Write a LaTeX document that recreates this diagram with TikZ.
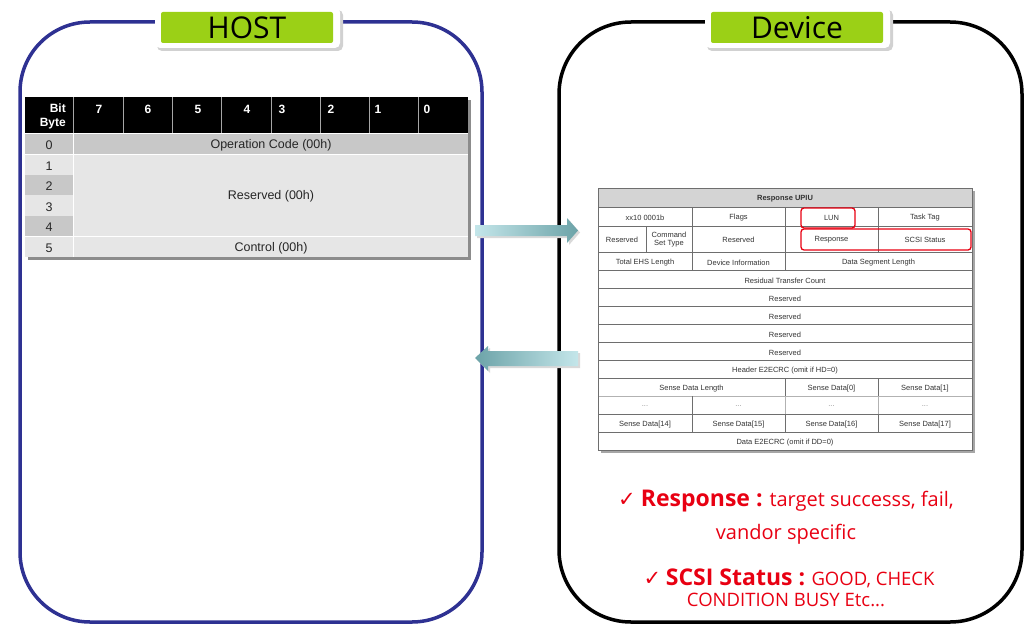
\documentclass[tikz,border=0pt]{standalone}
\usepackage{fontspec}
\setmainfont{Liberation Sans}
\newfontfamily\gothic{Open Sans}
\newfontfamily\symb{DejaVu Sans}

\definecolor{hostblue}{RGB}{46,49,146}
\definecolor{tabgreen}{RGB}{155,208,22}
\definecolor{rowdark}{RGB}{200,200,200}
\definecolor{rowlight}{RGB}{230,230,230}
\definecolor{cellline}{RGB}{110,110,110}
\definecolor{arrowlight}{RGB}{196,230,234}
\definecolor{arrowdark}{RGB}{108,163,168}
\definecolor{notered}{RGB}{232,0,18}

\begin{document}
\begin{tikzpicture}[x=1pt, y=-1pt,
    tag/.style={fill=tabgreen, rounded corners=2pt, minimum width=172pt, minimum height=31pt,
      inner sep=0pt, font=\gothic\fontsize{30}{30}\selectfont},
    bitnum/.style={font=\bfseries\fontsize{12}{12}\selectfont, text=white, inner sep=0pt},
    rowtext/.style={font=\fontsize{12.5}{13}\selectfont, text=black!85, inner sep=0pt},
    cell/.style={font=\fontsize{7.5}{8}\selectfont, text=black!80, inner sep=0pt, align=center},
    highlight/.style={draw=notered, line width=1.3pt, rounded corners=3pt},
    note/.style={text=notered, inner sep=0pt, font=\gothic\fontsize{20}{22}\selectfont}]
    \useasboundingbox (0,0) rectangle (1036,634);

    % Draw host and device frames
    \draw[hostblue, line width=3.5pt, rounded corners=70pt] (20,22) rectangle (482,622);
    \draw[black, line width=3.5pt, rounded corners=72pt] (559,22) rectangle (1022,622);

    % Draw title tags
    \foreach \x/\name/\txt in {247/host/HOST, 797/device/Device} {
        \fill[black!18, rounded corners=5pt] (\x-90,10) rectangle (\x+96,51);
        \fill[white, rounded corners=5pt] (\x-92,7) rectangle (\x+93,48);
        \node[tag] (\name) at (\x,27.5) {\txt};
    }

    % Draw command table (host side)
    \fill[black!45] (28,100) rectangle (471,260);
    \fill[black] (25,97) rectangle (468,133);
    \foreach \x in {73,123,172,221,271,320,369,418}
        \draw[gray!70, line width=0.8pt] (\x,97) -- (\x,133);
    \node[bitnum, anchor=east] (bitlabel) at (66,108) {Bit};
    \node[bitnum, anchor=east] (bytelabel) at (66,124) {Byte};
    \foreach \x/\d in {99/7,148/6,198/5,247/4,282/3,331/2,378/1,427/0}
        \node[bitnum] (bit\d) at (\x,109) {\d};
    \fill[rowdark] (73,133) rectangle (468,154);
    \fill[rowlight] (73,154) rectangle (468,257);
    \foreach \top/\bot/\c [count=\i from 0] in
        {133/154/rowdark, 154/175/rowlight, 175/195/rowdark,
         195/216/rowlight, 216/236/rowdark, 236/257/rowlight} {
        \fill[\c] (25,\top) rectangle (73,\bot);
        \node[rowtext] (byte\i) at (49,{(\top+\bot)/2+1.5}) {\i};
    }
    \draw[white, line width=1pt] (25,133) -- (468,133) (25,154) -- (468,154)
        (25,236) -- (468,236) (73,133) -- (73,257);
    \node[rowtext] (opcode) at (271,145) {Operation Code (00h)};
    \node[rowtext] (reserved) at (271,196.5) {Reserved (00h)};
    \node[rowtext] (control) at (271,248) {Control (00h)};

    % Draw response UPIU table (device side)
    \fill[black!35] (601,191) rectangle (975,453);
    \fill[white] (598,188) rectangle (972,450);
    \fill[black!17] (598,188) rectangle (972,207);
    \foreach \y in {207,226,252,270,288,306,324,342,360,378,414,432}
        \draw[cellline, line width=0.5pt] (598,\y) -- (972,\y);
    \draw[black!30, line width=0.5pt] (598,396) -- (972,396);
    \draw[cellline, line width=0.6pt] (598,188) rectangle (972,450);
    \draw[cellline, line width=0.5pt]
        (692,207) -- (692,270) (785,207) -- (785,270) (878,207) -- (878,252)
        (646,226) -- (646,252)
        (785,378) -- (785,396) (878,378) -- (878,396)
        (692,396) -- (692,432) (785,414) -- (785,432) (878,414) -- (878,432);
    \draw[black!30, line width=0.5pt] (785,396) -- (785,414) (878,396) -- (878,414);

    \node[cell, font=\bfseries\fontsize{7.5}{8}\selectfont] (upiu) at (785,199) {Response UPIU};
    \node[cell] (ttype) at (645,218) {xx10 0001b};
    \node[cell] (flags) at (738.5,218) {Flags};
    \node[cell] (lun) at (831.5,218) {LUN};
    \node[cell] (tasktag) at (925,218) {Task Tag};
    \node[cell] (rsvda) at (622,240) {Reserved};
    \node[cell] (cmdset) at (669,240) {Command\\Set Type};
    \node[cell] (rsvdb) at (738.5,240) {Reserved};
    \node[cell] (response) at (831.5,240) {Response};
    \node[cell] (status) at (925,240) {SCSI Status};
    \node[cell] (ehslen) at (645,262.5) {Total EHS Length};
    \node[cell] (devinfo) at (738.5,262.5) {Device Information};
    \node[cell] (seglen) at (878.5,262.5) {Data Segment Length};
    \node[cell] (residual) at (785,280.5) {Residual Transfer Count};
    \foreach \y [count=\i] in {298.5,316.5,334.5,352.5}
        \node[cell] (rsvd\i) at (785,\y) {Reserved};
    \node[cell] (hcrc) at (785,370.5) {Header E2ECRC (omit if HD=0)};
    \node[cell] (senselen) at (691.5,388.5) {Sense Data Length};
    \node[cell] (sense0) at (831.5,388.5) {Sense Data[0]};
    \node[cell] (sense1) at (925,388.5) {Sense Data[1]};
    \foreach \x [count=\i] in {645,738.5,831.5,925}
        \node[cell, text=black!45] (dots\i) at (\x,406) {...};
    \foreach \x/\n in {645/14,738.5/15,831.5/16,925/17}
        \node[cell] (sense\n) at (\x,424.5) {Sense Data[\n]};
    \node[cell] (dcrc) at (785,442.5) {Data E2ECRC (omit if DD=0)};

    % Highlight fields
    \draw[highlight] (801,208) rectangle (855,228);
    \draw[highlight] (801,229) rectangle (971,250);

    % Draw transfer arrows
    \fill[black!15] (477,227) -- (569,227) -- (569,220) -- (580,232.5) -- (569,245) -- (569,238) -- (477,238) -- cycle;
    \shade[left color=arrowlight, right color=arrowdark]
        (475,225) -- (567,225) -- (567,218) -- (578,230.5) -- (567,243) -- (567,236) -- (475,236) -- cycle;
    \fill[black!15] (477,360) -- (490,348) -- (490,353) -- (580,353) -- (580,368) -- (490,368) -- (490,373) -- cycle;
    \shade[left color=arrowdark, right color=arrowlight]
        (475,358) -- (488,346) -- (488,351) -- (578,351) -- (578,366) -- (488,366) -- (488,371) -- cycle;

    % Notes on the device side
    \node[note] (respnote) at (786,501)
        {{\symb\fontsize{21}{21}\selectfont ✓} {\bfseries\fontsize{23}{23}\selectfont Response :} target successs, fail,};
    \node[note] (respnote2) at (786,534) {vandor specific};
    \node[note, font=\gothic\fontsize{18.5}{20}\selectfont] (statnote) at (789,578)
        {{\symb\fontsize{21}{21}\selectfont ✓} {\bfseries\fontsize{23}{23}\selectfont SCSI Status :} GOOD, CHECK};
    \node[note, font=\gothic\fontsize{18.5}{20}\selectfont] (statnote2) at (786,600) {CONDITION BUSY Etc...};
\end{tikzpicture}
\end{document}
